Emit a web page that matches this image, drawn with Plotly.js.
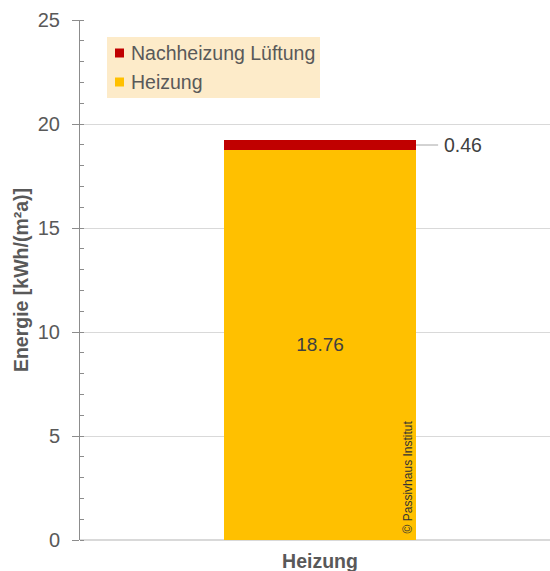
<!DOCTYPE html>
<html>
<head>
<meta charset="utf-8">
<script src="https://cdn.plot.ly/plotly-3.0.1.min.js"></script>
<style>html,body{margin:0;padding:0;background:#fff;}#chart{width:550px;height:571px;}</style>
</head>
<body>
<div id="chart"></div>
<script>
const categories = ['Heizung'];
const heizung = [18.76];
const nachheizung = [0.46];
const seriesNames = ['Heizung', 'Nachheizung Lüftung'];
const seriesColors = ['#ffc000', '#c00000'];
const yTicks = [0, 5, 10, 15, 20, 25];

const FONT = 'Arial, "Liberation Sans", sans-serif';
const TXT = '#595959';
const barWidth = 0.4;

// plot area geometry in pixels (for placing the legend box in paper coords)
const W = 550, H = 571, ML = 80, MR = 0, MT = 20, MB = 31;
const PW = W - ML - MR, PH = H - MT - MB;
const px = x => (x - ML) / PW;
const py = y => (H - MB - y) / PH;

const traces = [
  {
    type: 'bar', x: categories, y: heizung, name: seriesNames[0],
    marker: {color: seriesColors[0]}, width: barWidth,
    text: heizung.map(v => v.toFixed(2)), textposition: 'inside',
    insidetextanchor: 'middle', textangle: 0,
    textfont: {family: FONT, size: 19, color: '#404040'},
    hoverinfo: 'none'
  },
  {
    type: 'bar', x: categories, y: nachheizung, name: seriesNames[1],
    marker: {color: seriesColors[1]}, width: barWidth,
    hoverinfo: 'none'
  }
];

const topMid = heizung[0] + nachheizung[0] / 2;

// manual legend (Nachheizung on top, Heizung below)
const legendRows = [
  {name: seriesNames[1], color: seriesColors[1], cy: 53},
  {name: seriesNames[0], color: seriesColors[0], cy: 82}
];
const legendShapes = [
  {type: 'rect', xref: 'paper', yref: 'paper', x0: px(107), x1: px(320), y0: py(98), y1: py(37),
   fillcolor: '#fdebc9', line: {width: 0}, layer: 'above'}
];
const legendAnn = [];
legendRows.forEach(r => {
  legendShapes.push({type: 'rect', xref: 'paper', yref: 'paper',
    x0: px(115), x1: px(124), y0: py(r.cy + 4.5), y1: py(r.cy - 4.5),
    fillcolor: r.color, line: {width: 0}, layer: 'above'});
  legendAnn.push({xref: 'paper', yref: 'paper', x: px(129), y: py(r.cy),
    xanchor: 'left', yanchor: 'middle', showarrow: false, text: r.name,
    font: {family: FONT, size: 19.5, color: TXT}});
});

const layout = {
  width: W, height: H,
  margin: {l: ML, r: MR, t: MT, b: MB},
  paper_bgcolor: '#fff', plot_bgcolor: '#fff',
  barmode: 'stack',
  showlegend: false,
  xaxis: {
    type: 'category', range: [-0.5, 0.479],
    showgrid: false, showline: false, zeroline: false,
    ticks: '', ticklabelstandoff: 7,
    tickfont: {family: FONT, size: 19.5, color: TXT, weight: 'bold'}
  },
  yaxis: {
    range: [0, 25], tickvals: yTicks,
    showgrid: true, gridcolor: '#d9d9d9', gridwidth: 1,
    zeroline: true, zerolinecolor: '#d9d9d9', zerolinewidth: 2,
    showline: true, linecolor: '#8c8c8c', linewidth: 1,
    ticks: 'outside', ticklen: 7, tickcolor: '#8c8c8c',
    minor: {dtick: 1, ticks: 'inside', ticklen: 4, tickcolor: '#8c8c8c', showgrid: false},
    tickfont: {family: FONT, size: 20, color: TXT},
    ticklabelstandoff: 8,
    title: {text: 'Energie [kWh/(m²a)]', font: {family: FONT, size: 19.5, color: TXT, weight: 'bold'}, standoff: 3}
  },
  shapes: [
    {type: 'line', xref: 'x', yref: 'y', x0: barWidth / 2, x1: 0.246, y0: topMid, y1: topMid,
     line: {color: '#a6a6a6', width: 1}}
  ].concat(legendShapes),
  annotations: [
    {xref: 'x', yref: 'y', x: 0.254, y: topMid, xanchor: 'left', yanchor: 'middle',
     text: nachheizung[0].toFixed(2), showarrow: false,
     font: {family: FONT, size: 19.5, color: '#404040'}},
    {xref: 'x', yref: 'y', x: 0.183, y: 0.24, xanchor: 'center', yanchor: 'bottom',
     text: '© Passivhaus Institut', textangle: -90, showarrow: false,
     font: {family: FONT, size: 12, color: '#333'}}
  ].concat(legendAnn)
};

Plotly.newPlot('chart', traces, layout, {displayModeBar: false, staticPlot: true});
</script>
</body>
</html>
